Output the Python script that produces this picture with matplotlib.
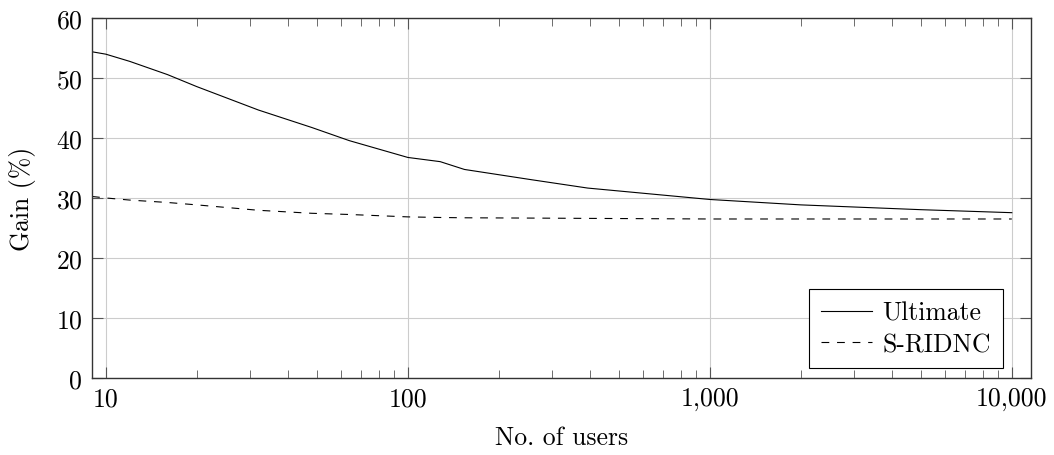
#!/usr/bin/env python3
# Gain vs number of users, log x axis (pgfplots look-alike)
import matplotlib
matplotlib.use("Agg")
import matplotlib.pyplot as plt
from matplotlib.ticker import FixedLocator, LogLocator, NullFormatter

# data
users = [9, 10, 12, 16, 20, 32, 48, 64, 100, 128, 154, 256, 394, 1000, 2000, 5000, 10000]
ultimate = [54.4, 54.0, 52.8, 50.6, 48.6, 44.7, 41.8, 39.6, 36.8, 36.1, 34.8, 33.1, 31.7, 29.8, 28.9, 28.1, 27.6]
s_ridnc = [30.3, 30.05, 29.7, 29.3, 28.9, 28.0, 27.5, 27.3, 26.9, 26.8, 26.75, 26.7, 26.65, 26.55, 26.55, 26.55, 26.55]

x_ticks = [10, 100, 1000, 10000]
x_labels = ["10", "100", "1,000", "10,000"]
y_ticks = [0, 10, 20, 30, 40, 50, 60]

plt.rcParams["font.family"] = ["cmr10", "DejaVu Serif"]
plt.rcParams["mathtext.fontset"] = "cm"
plt.rcParams["axes.formatter.use_mathtext"] = True

fig = plt.figure(figsize=(10.54, 4.56), dpi=100)
ax = fig.add_axes([0.0873, 0.168, 0.8907, 0.790])

ax.plot(users, ultimate, color="black", lw=0.8, label="Ultimate")
ax.plot(users, s_ridnc, color="black", lw=0.8, dashes=(7, 7), label="S-RIDNC")

ax.set_xscale("log")
ax.set_xlim(9.0, 11560)
ax.set_ylim(0, 60)

ax.xaxis.set_major_locator(FixedLocator(x_ticks))
ax.set_xticklabels(x_labels)
ax.xaxis.set_minor_locator(LogLocator(base=10, subs=range(2, 10)))
ax.xaxis.set_minor_formatter(NullFormatter())
ax.set_yticks(y_ticks)

ax.grid(True, which="major", color="#cccccc", lw=0.8)
ax.set_axisbelow(True)

ax.tick_params(which="both", direction="in", top=True, right=True,
               labelsize=18.5, color="#555555")
ax.tick_params(which="major", length=8, width=0.8)
ax.tick_params(which="minor", length=5.5, width=0.6)
ax.tick_params(axis="y", pad=7)
ax.tick_params(axis="x", pad=6)

for sp in ax.spines.values():
    sp.set_linewidth(1.0)
    sp.set_color("#333333")

ax.set_xlabel("No. of users", fontsize=18.5, labelpad=11)
ax.set_ylabel("Gain (%)", fontsize=18.5, labelpad=14)

leg = ax.legend(loc="lower right", bbox_to_anchor=(0.97, 0.03), borderaxespad=0,
                fontsize=18.5, fancybox=False, frameon=True, framealpha=1,
                edgecolor="black", handlelength=2.0, handletextpad=0.4,
                borderpad=0.45, labelspacing=0.3)
leg.get_frame().set_linewidth(0.8)

fig.savefig("out.png", dpi=100)
